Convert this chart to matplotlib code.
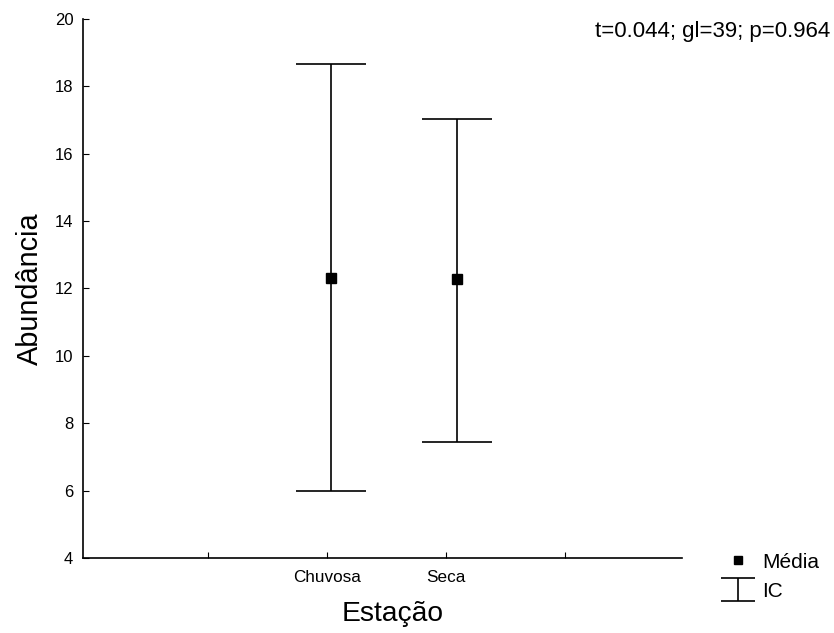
import matplotlib.pyplot as plt
from matplotlib.lines import Line2D
from matplotlib.legend_handler import HandlerErrorbar
from matplotlib.container import ErrorbarContainer
import numpy as np

plt.rcParams['font.family'] = ['Liberation Sans', 'DejaVu Sans']

# dados
estacoes = ['Chuvosa', 'Seca']
pos = [2.03, 3.09]
media = [12.32, 12.27]
ic_inf = [6.0, 7.43]
ic_sup = [18.66, 17.03]
stat_txt = 't=0.044; gl=39; p=0.964'

media = np.array(media)
yerr = np.array([media - np.array(ic_inf), np.array(ic_sup) - media])

fig = plt.figure(figsize=(8.34, 6.33), dpi=100)
ax = fig.add_axes([0.0995, 0.1185, 0.7185, 0.8515])

ax.errorbar(pos, media, yerr=yerr, fmt='none', ecolor='black', elinewidth=1.2,
            capsize=25, capthick=1.2)
ax.plot(pos, media, 's', color='black', markersize=6.5)

ax.set_xlim(-0.05, 4.98)
ax.set_ylim(4, 20)
ax.set_xticks([1, 2, 3, 4])
ax.set_xticklabels(['', estacoes[0], estacoes[1], ''], fontsize=12.3)
ax.set_yticks(np.arange(4, 21, 2))
ax.tick_params(axis='y', labelsize=12, direction='in', length=4, pad=7)
ax.tick_params(axis='x', direction='in', length=4, pad=9)
for s in ['top', 'right']:
    ax.spines[s].set_visible(False)
for s in ['left', 'bottom']:
    ax.spines[s].set_linewidth(1.2)

ax.set_xlabel('Estação', fontsize=20.3)
ax.xaxis.set_label_coords(0.516, -0.08)
ax.set_ylabel('Abundância', fontsize=20.8, labelpad=8)

fig.text(0.995, 0.951, stat_txt, ha='right', va='center', fontsize=16)

# legenda: proxy so para o simbolo do IC
proxy = ax.errorbar([np.nan], [np.nan], yerr=[[1], [1]], fmt='none',
                    ecolor='black', elinewidth=1.2, capsize=12.5, capthick=1.2)
h_media = Line2D([], [], ls='none', marker='s', color='black', markersize=6)
fig.legend([h_media, proxy], ['Média', 'IC'], loc='upper left',
           bbox_to_anchor=(0.864, 0.127), frameon=False, fontsize=15,
           handlelength=1.7, handletextpad=0.3, labelspacing=0.5,
           borderpad=0, borderaxespad=0,
           handler_map={ErrorbarContainer: HandlerErrorbar(yerr_size=0.55)})

fig.savefig('out.png', dpi=100)
